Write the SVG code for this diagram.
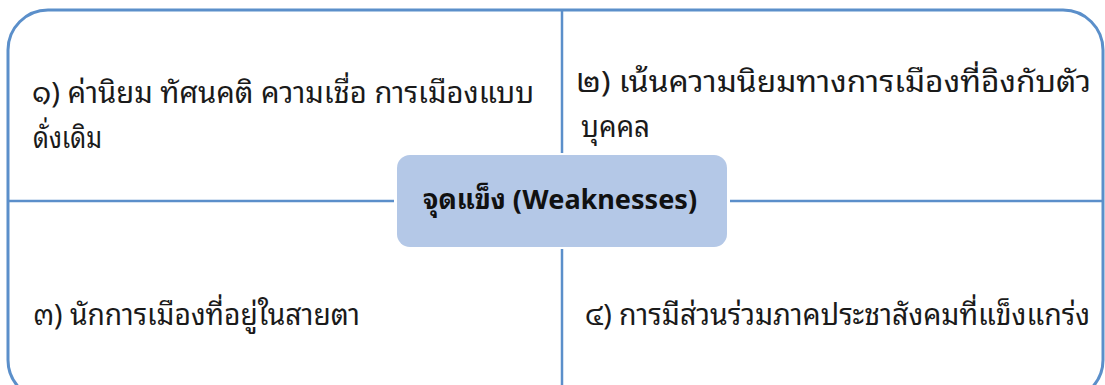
<svg xmlns="http://www.w3.org/2000/svg" width="1105" height="385" viewBox="0 0 1105 385">
<style>
.frame{fill:none;stroke:#5b8fca;stroke-width:3}
.ln{stroke:#5b8fca;stroke-width:2.5;fill:none}
.t{font-family:"Noto Sans Thai Looped","Noto Sans","Noto Sans Thai",sans-serif;font-size:29px;fill:#1a1a1a}
.c{font-family:"Noto Sans Thai Looped","Noto Sans","Noto Sans Thai",sans-serif;font-size:27px;font-weight:bold;fill:#111;text-anchor:middle}
</style>
<rect width="1105" height="385" fill="#fff"/>
<g id="frame"><rect class="frame" x="8" y="10" width="1095" height="390" rx="40" ry="40"/></g>
<g id="connectors">
<line class="ln" x1="562" y1="10" x2="562" y2="153"/>
<line class="ln" x1="562" y1="249" x2="562" y2="395"/>
<line class="ln" x1="8" y1="201" x2="394" y2="201"/>
<line class="ln" x1="730" y1="201" x2="1103" y2="201"/>
</g>
<g id="center"><rect x="397" y="155" width="330" height="92" rx="13" ry="13" fill="#b4c8e7"/>
<text class="c" x="560" y="209" textLength="274" lengthAdjust="spacingAndGlyphs">จุดแข็ง (Weaknesses)</text></g>
<g id="n1"><text class="t" x="32" y="103" textLength="502" lengthAdjust="spacingAndGlyphs">๑) ค่านิยม ทัศนคติ ความเชื่อ การเมืองแบบ</text><text class="t" x="33" y="148" textLength="69" lengthAdjust="spacingAndGlyphs">ดั่งเดิม</text></g>
<g id="n2"><text class="t" x="576" y="92" textLength="515" lengthAdjust="spacingAndGlyphs">๒) เน้นความนิยมทางการเมืองที่อิงกับตัว</text><text class="t" x="581" y="137" textLength="69" lengthAdjust="spacingAndGlyphs">บุคคล</text></g>
<g id="n3"><text class="t" x="33" y="325" textLength="327" lengthAdjust="spacingAndGlyphs">๓) นักการเมืองที่อยู่ในสายตา</text></g>
<g id="n4"><text class="t" x="585" y="325" textLength="505" lengthAdjust="spacingAndGlyphs">๔) การมีส่วนร่วมภาคประชาสังคมที่แข็งแกร่ง</text></g>
</svg>
